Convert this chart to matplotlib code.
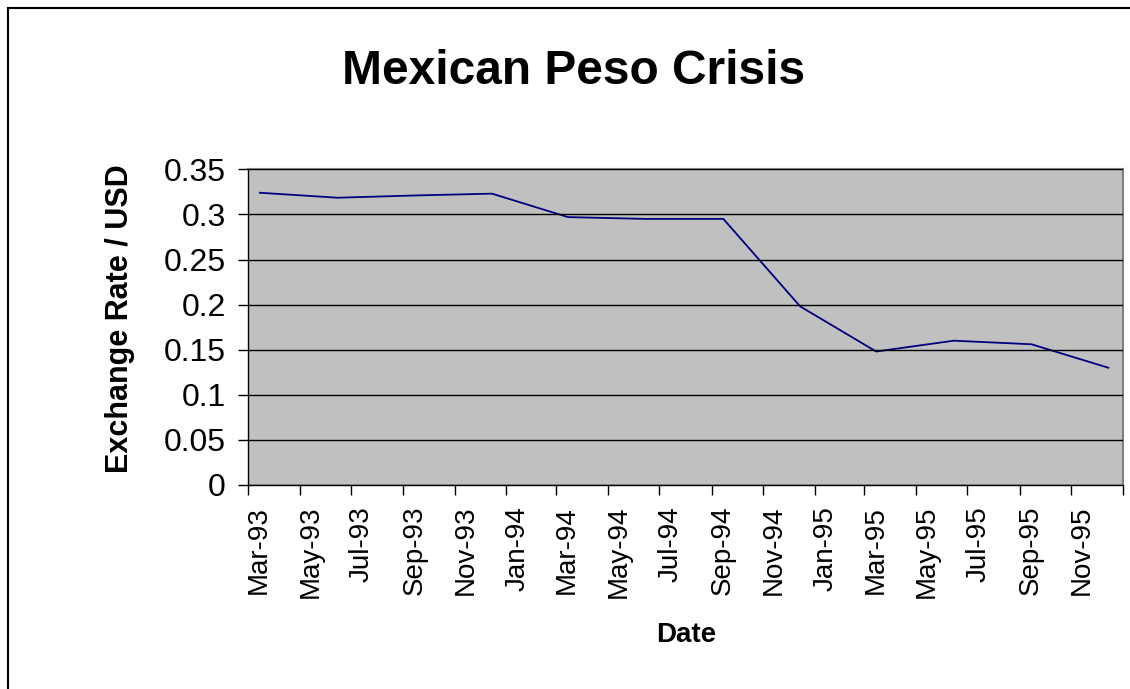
import numpy as np
import pandas as pd
import matplotlib
matplotlib.use('Agg')
import matplotlib.pyplot as plt
import matplotlib.transforms as mtransforms
from matplotlib.lines import Line2D

plt.rcParams['font.family'] = ['Liberation Sans', 'DejaVu Sans']

# quarterly peso / USD exchange rate
dates = pd.to_datetime(['1993-03-15', '1993-06-15', '1993-09-15', '1993-12-15',
                        '1994-03-15', '1994-06-15', '1994-09-15', '1994-12-15',
                        '1995-03-15', '1995-06-15', '1995-09-15', '1995-12-15'])
rates = [0.324, 0.3185, 0.321, 0.323, 0.297, 0.295, 0.295, 0.198,
         0.148, 0.160, 0.156, 0.130]

x_ticks = pd.to_datetime(['1993-03-01', '1993-05-01', '1993-07-01', '1993-09-01',
                          '1993-11-01', '1994-01-01', '1994-03-01', '1994-05-01',
                          '1994-07-01', '1994-09-01', '1994-11-01', '1995-01-01',
                          '1995-03-01', '1995-05-01', '1995-07-01', '1995-09-01',
                          '1995-11-01', '1996-01-01'])
x_labels = ['Mar-93', 'May-93', 'Jul-93', 'Sep-93', 'Nov-93', 'Jan-94', 'Mar-94',
            'May-94', 'Jul-94', 'Sep-94', 'Nov-94', 'Jan-95', 'Mar-95', 'May-95',
            'Jul-95', 'Sep-95', 'Nov-95', '']
y_ticks = [0, 0.05, 0.1, 0.15, 0.2, 0.25, 0.3, 0.35]
y_labels = ['0', '0.05', '0.1', '0.15', '0.2', '0.25', '0.3', '0.35']

fig = plt.figure(figsize=(11.3, 6.89), dpi=100)
ax = fig.add_axes([248 / 1130, 1 - 485 / 689, (1122.7 - 248) / 1130, (485 - 169.3) / 689])

ax.set_facecolor('#C0C0C0')
ax.plot(dates, rates, color='#000080', lw=1.3)

ax.set_xlim(x_ticks[0], x_ticks[-1])
ax.set_ylim(0, 0.35)
ax.set_xticks(x_ticks)
ax.set_xticklabels(x_labels, rotation=90, fontsize=20)
ax.set_yticks(y_ticks)
ax.set_yticklabels(y_labels, fontsize=23)
ax.tick_params(axis='both', direction='out', length=7, width=1, color='black')
ax.tick_params(axis='y', pad=9)
ax.tick_params(axis='x', pad=8)

# excel puts the rotated labels just right of the tick
shift = mtransforms.ScaledTranslation(11 / 100, 0, fig.dpi_scale_trans)
for lbl in ax.get_xticklabels():
    lbl.set_transform(lbl.get_transform() + shift)

ax.yaxis.grid(True, color='black', lw=1)
ax.set_axisbelow(False)
for s in ['top', 'right']:
    ax.spines[s].set_color('#808080')
    ax.spines[s].set_linewidth(1.5)
for s in ['left', 'bottom']:
    ax.spines[s].set_color('black')
    ax.spines[s].set_linewidth(1)

fig.text(573.5 / 1130, 1 - 71 / 689, 'Mexican Peso Crisis', ha='center', va='center',
         fontsize=34.5, fontweight='bold')
fig.text(120 / 1130, 1 - 318.5 / 689, 'Exchange Rate / USD', ha='center', va='center',
         rotation=90, fontsize=22, fontweight='bold')
fig.text(686 / 1130, 1 - 635 / 689, 'Date', ha='center', va='center',
         fontsize=20, fontweight='bold')

# chart frame (runs off right/bottom edges)
fig.add_artist(Line2D([7.5 / 1130, 7.5 / 1130], [0, 1 - 8 / 689], color='black', lw=1.5))
fig.add_artist(Line2D([7.5 / 1130, 1], [1 - 8 / 689, 1 - 8 / 689], color='black', lw=1.5))

fig.savefig('out.png', dpi=100)
